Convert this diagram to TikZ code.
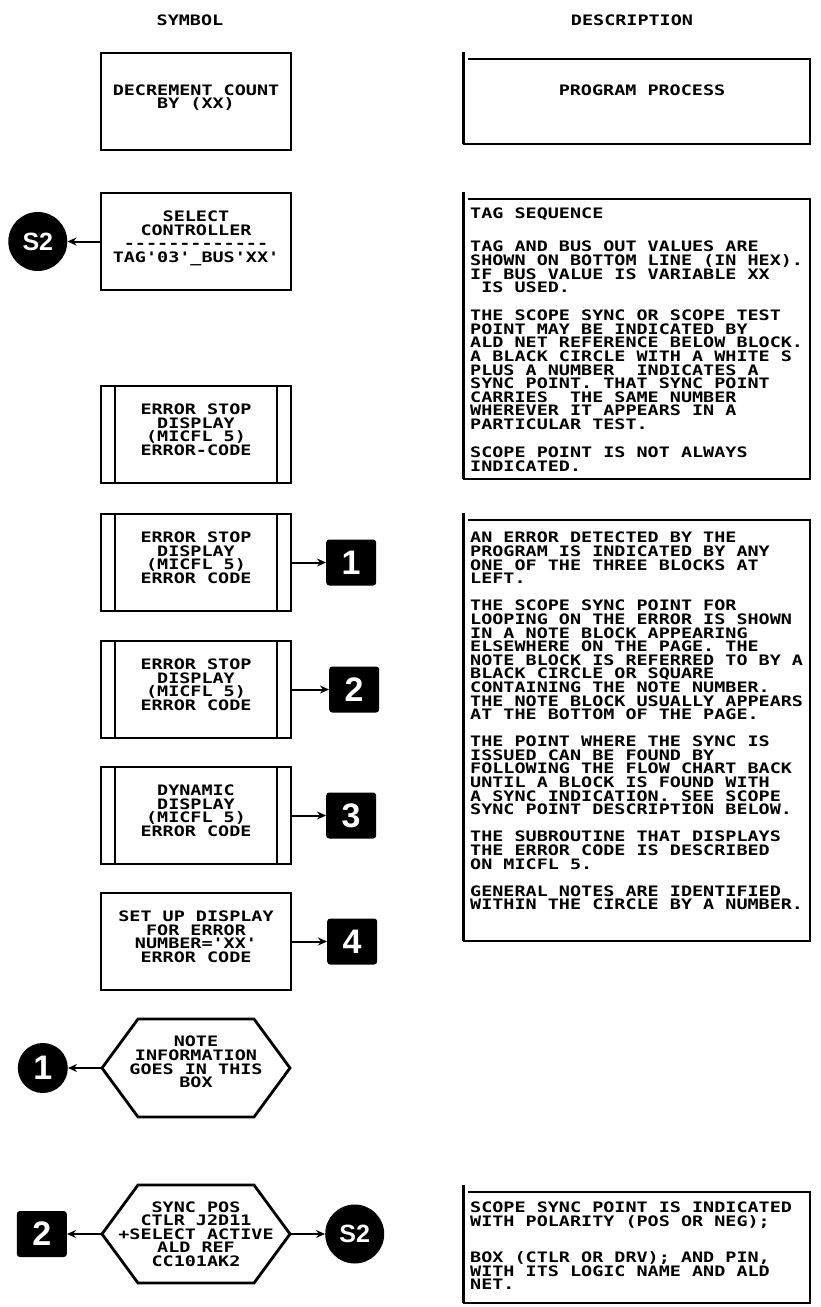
\documentclass[tikz,border=0pt]{standalone}
\usepackage{fontspec}
\newfontfamily\plotfont[FakeStretch=1.28]{DejaVu Sans Mono}
\newfontfamily\tagfont{Liberation Sans}
\usetikzlibrary{arrows.meta,positioning,calc}

\begin{document}
\begin{tikzpicture}[x=1pt, y=-1pt,
    mono/.style={font=\plotfont\bfseries\fontsize{14.4}{13.6}\selectfont},
    symbox/.style={mono, rectangle, draw, line width=2.8pt, minimum width=190pt, minimum height=97pt, align=center, inner sep=0pt, outer sep=0pt, text depth=10pt},
    hexbox/.style={mono, rectangle, minimum width=188pt, minimum height=98pt, align=center, inner sep=0pt, outer sep=0pt},
    descbox/.style={rectangle, minimum width=347pt, inner sep=0pt, outer sep=0pt},
    desctext/.style={mono, anchor=north west, align=left, inner sep=0pt},
    boxline/.style={line width=2.8pt},
    descline/.style={line width=2.4pt},
    numsq/.style={rectangle, fill=black, rounded corners=3pt, minimum width=50pt, minimum height=46pt, inner sep=0pt, text=white, font=\tagfont\bfseries\fontsize{34}{34}\selectfont},
    numdot/.style={circle, fill=black, minimum size=50pt, inner sep=0pt, text=white, font=\tagfont\bfseries\fontsize{34}{34}\selectfont},
    syncdot/.style={circle, fill=black, minimum size=59pt, inner sep=0pt, text=white, font=\tagfont\bfseries\fontsize{25}{25}\selectfont},
    arrow/.style={-{Stealth[length=9pt,width=8pt]}, line width=2pt}
]
\useasboundingbox (0,0) rectangle (820,1307);

% column heads
\node[mono] (symhead) at (190,20) {SYMBOL};
\node[mono] (deschead) at (632,20) {DESCRIPTION};

% symbol column
\node[symbox] (dec) at (196,101.5) {DECREMENT COUNT\\BY (XX)};
\node[symbox, below=43pt of dec] (sel) {SELECT\\CONTROLLER\\-{}-{}-{}-{}-{}-{}-{}-{}-{}-{}-{}-{}-\\TAG'03'\_BUS'XX'};
\node[symbox, below=96pt of sel] (stop) {ERROR STOP\\DISPLAY\\(MICFL 5)\\ERROR-CODE};
\node[symbox, below=31pt of stop] (stopa) {ERROR STOP\\DISPLAY\\(MICFL 5)\\ERROR CODE};
\node[symbox, below=30pt of stopa] (stopb) {ERROR STOP\\DISPLAY\\(MICFL 5)\\ERROR CODE};
\node[symbox, below=29pt of stopb] (dyn) {DYNAMIC\\DISPLAY\\(MICFL 5)\\ERROR CODE};
\node[symbox, below=29pt of dyn] (setup) {SET UP DISPLAY\\FOR ERROR\\NUMBER='XX'\\ERROR CODE};
\node[hexbox, below=29pt of setup, text depth=12pt] (note) {NOTE\\INFORMATION\\GOES IN THIS\\BOX};
\node[hexbox, below=68pt of note] (sync) {SYNC POS\\CTLR J2D11\\+SELECT ACTIVE\\ALD REF\\CC101AK2};

% markers
\node[syncdot, left=33.5pt of sel] (selsync) {S2};
\node[numsq, right=35pt of stopa] (noteone) {1};
\node[numsq, right=38pt of stopb] (notetwo) {2};
\node[numsq, right=35pt of dyn] (notethree) {3};
\node[numsq, right=36pt of setup] (notefour) {4};
\node[numdot, left=34pt of note] (dotone) {1};
\node[numsq, left=35pt of sync] (sqtwo) {2};
\node[syncdot, right=35pt of sync] (syncref) {S2};

\draw[arrow] (sel) -- (selsync);
\draw[arrow] (stopa) -- (noteone);
\draw[arrow] (stopb) -- (notetwo);
\draw[arrow] (dyn) -- (notethree);
\draw[arrow] (setup) -- (notefour);
\draw[arrow] (note) -- (dotone);
\draw[arrow] (sync) -- (sqtwo);
\draw[arrow] (sync) -- (syncref);

% inner bars of the error blocks
\foreach \b in {stop,stopa,stopb,dyn}
  \draw[boxline] ($(\b.north west)+(14,0)$) -- ($(\b.south west)+(14,0)$)
                 ($(\b.north east)+(-14,0)$) -- ($(\b.south east)+(-14,0)$);

% note hexagons
\foreach \h in {note,sync}
  \draw[boxline, line join=miter] (\h.west) -- ($(\h.north west)+(36,0)$) -- ($(\h.north east)+(-36,0)$)
    -- (\h.east) -- ($(\h.south east)+(-36,0)$) -- ($(\h.south west)+(36,0)$) -- cycle;

% description column
\node[descbox, minimum height=85pt] (prog) at (636.5,101.5) {};
\node[mono] (progtxt) at (642,90) {PROGRAM PROCESS};

\node[descbox, minimum height=280pt] (tag) at (636.5,339) {};
\node[desctext] (tagtxt) at ($(tag.north west)+(7,9)$) {TAG SEQUENCE\\[19.4pt]
TAG AND BUS OUT VALUES ARE\\
SHOWN ON BOTTOM LINE (IN HEX).\\
IF BUS VALUE IS VARIABLE XX\\
~IS USED.\\[14.4pt]
THE SCOPE SYNC OR SCOPE TEST\\
POINT MAY BE INDICATED BY\\
ALD NET REFERENCE BELOW BLOCK.\\
A BLACK CIRCLE WITH A WHITE S\\
PLUS A NUMBER~ INDICATES A\\
SYNC POINT. THAT SYNC POINT\\
CARRIES~ THE SAME NUMBER\\
WHEREVER IT APPEARS IN A\\
PARTICULAR TEST.\\[14.4pt]
SCOPE POINT IS NOT ALWAYS\\
INDICATED.};

\node[descbox, minimum height=421pt] (err) at (636.5,730.5) {};
\node[desctext] (errtxt) at ($(err.north west)+(7,12)$) {AN ERROR DETECTED BY THE\\
PROGRAM IS INDICATED BY ANY\\
ONE OF THE THREE BLOCKS AT\\
LEFT.\\[13.5pt]
THE SCOPE SYNC POINT FOR\\
LOOPING ON THE ERROR IS SHOWN\\
IN A NOTE BLOCK APPEARING\\
ELSEWHERE ON THE PAGE. THE\\
NOTE BLOCK IS REFERRED TO BY A\\
BLACK CIRCLE OR SQUARE\\
CONTAINING THE NOTE NUMBER.\\
THE NOTE BLOCK USUALLY APPEARS\\
AT THE BOTTOM OF THE PAGE.\\[13.5pt]
THE POINT WHERE THE SYNC IS\\
ISSUED CAN BE FOUND BY\\
FOLLOWING THE FLOW CHART BACK\\
UNTIL A BLOCK IS FOUND WITH\\
A SYNC INDICATION. SEE SCOPE\\
SYNC POINT DESCRIPTION BELOW.\\[13.5pt]
THE SUBROUTINE THAT DISPLAYS\\
THE ERROR CODE IS DESCRIBED\\
ON MICFL 5.\\[13.5pt]
GENERAL NOTES ARE IDENTIFIED\\
WITHIN THE CIRCLE BY A NUMBER.};

\node[descbox, minimum height=111pt] (scope) at (636.5,1247.5) {};
\node[desctext] (scopetxt) at ($(scope.north west)+(7,10)$) {SCOPE SYNC POINT IS INDICATED\\
WITH POLARITY (POS OR NEG);\\[22.4pt]
BOX (CTLR OR DRV); AND PIN,\\
WITH ITS LOGIC NAME AND ALD\\
NET.};

% open-cornered frames
\foreach \d in {prog,tag,err,scope} {
  \draw[descline] ($(\d.north west)+(5,0)$) -- (\d.north east) -- (\d.south east) -- (\d.south west);
  \draw[descline, line width=3pt] (\d.south west) -- ($(\d.north west)+(0,-7)$);
}
\end{tikzpicture}
\end{document}
